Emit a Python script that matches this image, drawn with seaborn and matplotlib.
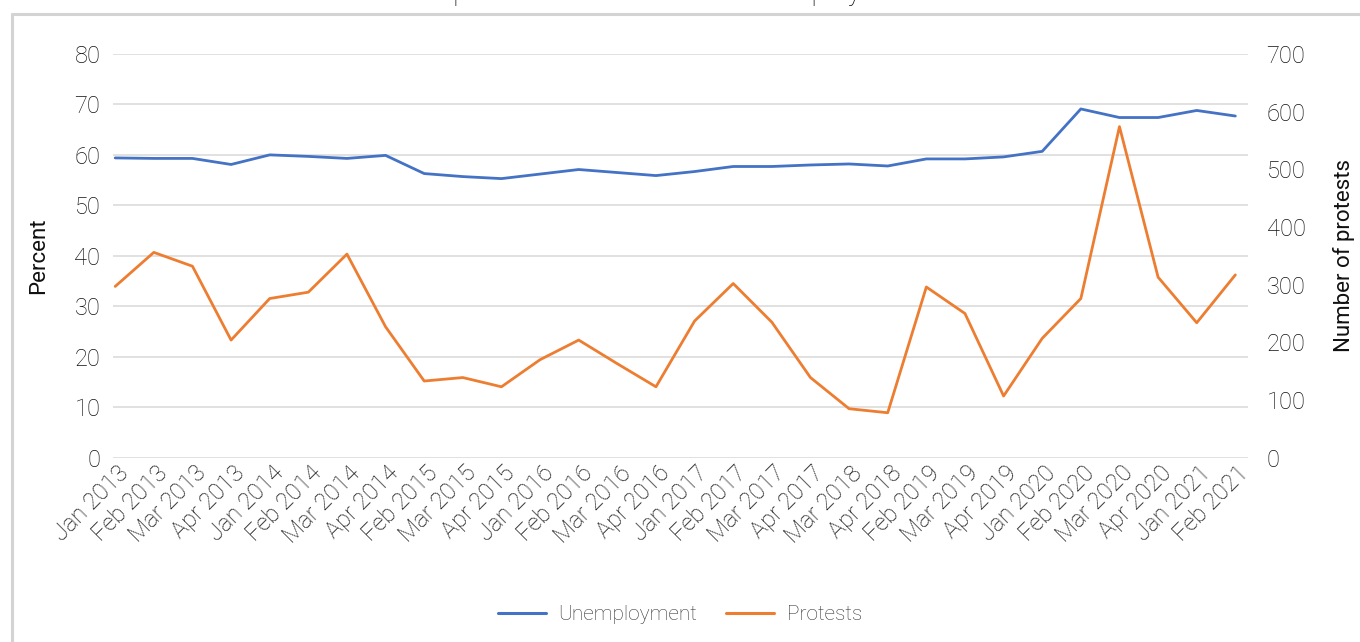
import numpy as np
import pandas as pd
import seaborn as sns
import matplotlib.pyplot as plt
import matplotlib.transforms as mtransforms
from matplotlib.lines import Line2D

# ----------- Data -----------

periods = [
    "Jan 2013", "Feb 2013", "Mar 2013", "Apr 2013",
    "Jan 2014", "Feb 2014", "Mar 2014", "Apr 2014",
    "Feb 2015", "Mar 2015", "Apr 2015",
    "Jan 2016", "Feb 2016", "Mar 2016", "Apr 2016",
    "Jan 2017", "Feb 2017", "Mar 2017", "Apr 2017",
    "Mar 2018", "Apr 2018",
    "Feb 2019", "Mar 2019", "Apr 2019",
    "Jan 2020", "Feb 2020", "Mar 2020", "Apr 2020",
    "Jan 2021", "Feb 2021",
]

unemployment = [
    59.4, 59.3, 59.3, 58.1,
    60.0, 59.7, 59.3, 59.9,
    56.3, 55.7, 55.3,
    56.2, 57.1, 56.5, 55.9,
    56.7, 57.7, 57.7, 58.0,
    58.2, 57.8,
    59.2, 59.2, 59.6,
    60.7, 69.1, 67.4, 67.4,
    68.8, 67.7,
]

protests = [
    297, 356, 332, 204,
    276, 287, 353, 227,
    133, 139, 123,
    170, 204, 163, 123,
    237, 302, 235, 139,
    85, 78,
    296, 250, 107,
    207, 276, 574, 313,
    234, 317,
]

title = "Comparison of Protests and Unemployment"
left_label = "Percent"
right_label = "Number of protests"

BLUE = "#4472C4"
ORANGE = "#ED7D31"
GRID = "#d9d9d9"
TEXT = "#111111"

df = pd.DataFrame({"period": periods, "Unemployment": unemployment, "Protests": protests})

# ----------- Plot -----------

sns.set_style("white")
plt.rcParams["font.family"] = ["Roboto", "DejaVu Sans"]
plt.rcParams["font.weight"] = "light"
plt.rcParams["text.color"] = TEXT

fig = plt.figure(figsize=(13.6, 6.42), dpi=100)
ax = fig.add_axes([0.083, 0.287, 0.835, 0.629])
ax2 = ax.twinx()

sns.lineplot(data=df, x="period", y="Unemployment", ax=ax, color=BLUE, linewidth=2.0,
             sort=False, label="Unemployment", legend=False)
sns.lineplot(data=df, x="period", y="Protests", ax=ax2, color=ORANGE, linewidth=2.0,
             sort=False, label="Protests", legend=False)

ax.set_xlim(-0.06, len(periods) - 1 + 0.34)
ax.set_ylim(0, 80)
ax.set_yticks(np.arange(0, 81, 10))
ax2.set_ylim(0, 700)
ax2.set_yticks(np.arange(0, 701, 100))

ax.grid(axis="y", color=GRID, linewidth=1.1)
ax.set_axisbelow(True)
for a in (ax, ax2):
    for s in a.spines.values():
        s.set_visible(False)
    a.tick_params(length=0, labelsize=17, labelcolor=TEXT)

ax.tick_params(axis="y", pad=9)
ax2.tick_params(axis="y", pad=13)
ax.tick_params(axis="x", pad=0)

ax.set_xticks(range(len(periods)))
ax.set_xticklabels(periods, rotation=45, ha="right", va="center",
                   rotation_mode="anchor", fontsize=17)
# nudge the rotated labels so their ends sit just below-right of each tick
shift = mtransforms.ScaledTranslation(10 / 100, -12 / 100, fig.dpi_scale_trans)
for lbl in ax.get_xticklabels():
    lbl.set_transform(lbl.get_transform() + shift)

ax.set_xlabel("")
ax.set_ylabel(left_label, fontsize=16, labelpad=18, color=TEXT)
ax2.set_ylabel(right_label, fontsize=16, labelpad=20, color=TEXT)

# legend below the plot
handles = [Line2D([], [], color=BLUE, linewidth=2.2), Line2D([], [], color=ORANGE, linewidth=2.2)]
fig.legend(handles, ["Unemployment", "Protests"], loc="center", bbox_to_anchor=(0.5, 0.043),
           ncol=2, frameon=False, fontsize=15, handlelength=2.3, handletextpad=0.6,
           columnspacing=1.4, labelcolor="#333333")

# chart frame and title cut off at the top, as in the source screenshot
fig.add_artist(Line2D([11.5 / 1360, 11.5 / 1360], [0, 1 - 13.5 / 642], color="#d3d3d3",
                      linewidth=2.2, transform=fig.transFigure))
fig.add_artist(Line2D([11.5 / 1360, 1], [1 - 13.5 / 642, 1 - 13.5 / 642], color="#d3d3d3",
                      linewidth=2.2, transform=fig.transFigure))
fig.text(0.485, 1.0, title, ha="center", va="baseline", fontsize=20, color=TEXT)

fig.savefig("out.png", dpi=100)
plt.close(fig)
